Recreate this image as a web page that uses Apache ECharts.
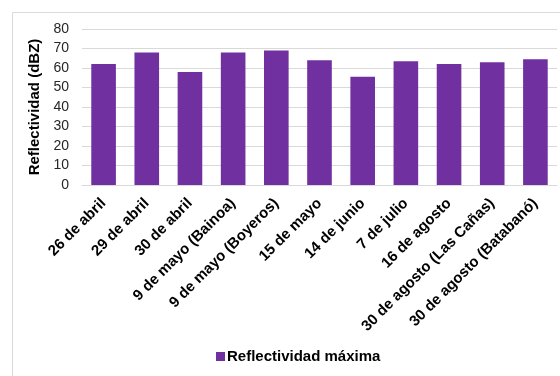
<!DOCTYPE html>
<html>
<head>
<meta charset="utf-8">
<script src="https://cdn.jsdelivr.net/npm/echarts@6/dist/echarts.min.js"></script>
<style>
  html, body { margin: 0; padding: 0; background: #ffffff; }
  #chart { width: 560px; height: 376px; }
</style>
</head>
<body>
<div id="chart"></div>
<script>
// Maximum reflectivity per event
const categories = [
  '26 de abril', '29 de abril', '30 de abril', '9 de mayo (Bainoa)',
  '9 de mayo (Boyeros)', '15 de mayo', '14 de junio', '7 de julio',
  '16 de agosto', '30 de agosto (Las Cañas)', '30 de agosto (Batabanó)'
];
const reflectividad = [62, 68, 58, 68, 69, 64, 55.5, 63.5, 62, 63, 64.5];
const yTicks = [0, 10, 20, 30, 40, 50, 60, 70, 80];

const seriesName = 'Reflectividad máxima';
const yName = 'Reflectividad (dBZ)';

const chart = echarts.init(document.getElementById('chart'), null, { renderer: 'canvas' });

chart.setOption({
  animation: false,
  backgroundColor: '#ffffff',
  graphic: [{
    type: 'rect',
    shape: { x: 12.5, y: 12.5, width: 600, height: 400 },
    style: { fill: 'none', stroke: '#d9d9d9', lineWidth: 1 },
    silent: true,
    z: -1
  }],
  grid: { left: 82, right: 3, top: 29, bottom: 191 },
  legend: {
    bottom: 7,
    left: 211,
    itemWidth: 9,
    itemHeight: 9,
    itemGap: 4,
    icon: 'rect',
    textStyle: { fontFamily: 'Liberation Sans', fontWeight: 'bold', fontSize: 15, color: '#000000', padding: [0, 0, 0, -3] },
    data: [seriesName]
  },
  xAxis: {
    type: 'category',
    data: categories,
    axisLine: { show: true, lineStyle: { color: '#d9d9d9' } },
    axisTick: { show: false },
    axisLabel: {
      interval: 0,
      rotate: 45,
      margin: 16,
      fontFamily: 'Liberation Sans',
      fontWeight: 'bold',
      fontSize: 15,
      color: '#000000'
    }
  },
  yAxis: {
    type: 'value',
    min: yTicks[0],
    max: yTicks[yTicks.length - 1],
    interval: 10,
    name: yName,
    nameLocation: 'middle',
    nameGap: 34,
    nameTextStyle: { fontFamily: 'Liberation Sans', fontWeight: 'bold', fontSize: 15, color: '#000000' },
    axisLine: { show: false },
    axisTick: { show: false },
    splitLine: { lineStyle: { color: '#d9d9d9', width: 1 } },
    axisLabel: { fontFamily: 'Liberation Sans', fontSize: 14, color: '#262626', margin: 13 }
  },
  series: [{
    name: seriesName,
    type: 'bar',
    data: reflectividad,
    barWidth: '57%',
    itemStyle: { color: '#7030a0' }
  }]
});
</script>
</body>
</html>
